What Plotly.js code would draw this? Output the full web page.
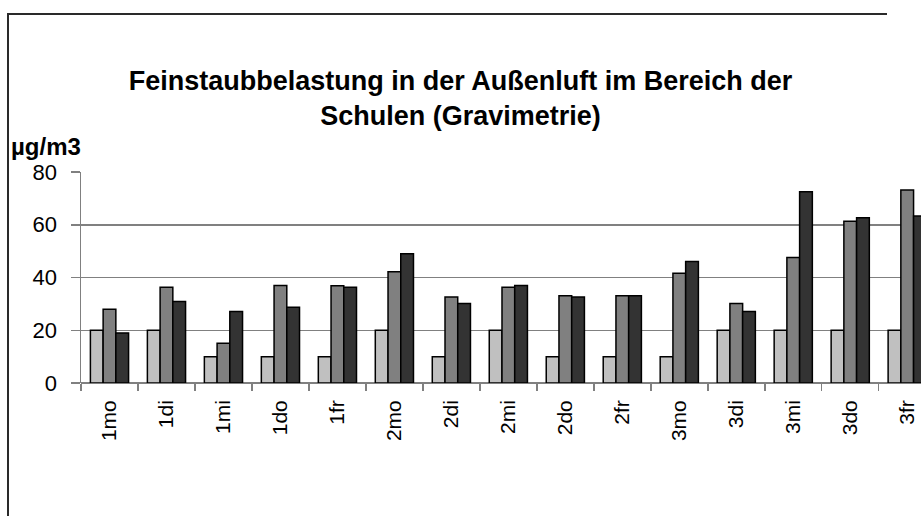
<!DOCTYPE html>
<html>
<head>
<meta charset="utf-8">
<script src="https://cdn.plot.ly/plotly-3.0.1.min.js"></script>
<style>
html,body{margin:0;padding:0;background:#fff;overflow:hidden;}
#wrap{position:relative;width:921px;height:516px;overflow:hidden;}
#chart{width:921px;height:516px;}
#vline{position:absolute;left:7px;top:13px;width:2px;height:503px;background:#2a2a2a;pointer-events:none;}
#hline{position:absolute;left:7px;top:13px;width:880px;height:2px;background:#2a2a2a;pointer-events:none;}
</style>
</head>
<body>
<div id="wrap"><div id="chart"></div><div id="vline"></div><div id="hline"></div></div>
<script>
const categories = ["1mo","1di","1mi","1do","1fr","2mo","2di","2mi","2do","2fr","3mo","3di","3mi","3do","3fr"];
const series1 = [20, 20, 10, 10, 10, 20, 10, 20, 10, 10, 10, 20, 20, 20, 20];
const series2 = [28, 36.3, 15.1, 37, 36.9, 42.2, 32.6, 36.3, 33.1, 33.1, 41.6, 30.1, 47.6, 61.3, 73.2];
const series3 = [19, 30.9, 27.1, 28.7, 36.3, 49, 30.1, 37, 32.6, 33.1, 46.1, 27.1, 72.5, 62.7, 63.3];
const seriesNames = ["Serie 1", "Serie 2", "Serie 3"];
const yTicks = [0, 20, 40, 60, 80];

const colors = ["#c0c0c0", "#808080", "#333333"];
const font = "Liberation Sans, Arial, sans-serif";

const traces = [series1, series2, series3].map((vals, i) => ({
  type: "bar",
  x: categories,
  y: vals,
  name: seriesNames[i],
  marker: {color: colors[i], line: {color: "#000000", width: 1.5}},
  hoverinfo: "x+y"
}));

const layout = {
  width: 921,
  height: 516,
  margin: {l: 81, r: 0, t: 172, b: 133},
  paper_bgcolor: "#ffffff",
  plot_bgcolor: "#ffffff",
  showlegend: false,
  barmode: "group",
  bargap: 0.33,
  bargroupgap: 0,
  font: {family: font, color: "#000000", size: 21},
  title: {
    text: "<b>Feinstaubbelastung in der Außenluft im Bereich der<br>Schulen (Gravimetrie)</b>",
    font: {family: font, size: 27, color: "#000000"},
    x: 0.5, xref: "container", xanchor: "center",
    y: 1 - 90/516, yref: "container", yanchor: "middle"
  },
  xaxis: {
    type: "category",
    range: [-0.5, 14.242],
    showgrid: false,
    showline: false,
    zeroline: false,
    ticks: "outside",
    tickson: "boundaries",
    ticklen: 7,
    tickwidth: 1.5,
    tickcolor: "#808080",
    tickangle: -90,
    tickfont: {family: font, size: 21, color: "#000000"},
    ticklabelstandoff: 12
  },
  yaxis: {
    range: [0, 80],
    tickvals: yTicks,
    ticktext: yTicks.map(String),
    showgrid: true,
    gridcolor: "#808080",
    gridwidth: 1.5,
    showline: true,
    linecolor: "#808080",
    linewidth: 1.5,
    zeroline: true,
    zerolinecolor: "#808080",
    zerolinewidth: 1.5,
    ticks: "outside",
    ticklen: 9,
    tickwidth: 1.5,
    tickcolor: "#808080",
    tickfont: {family: font, size: 22, color: "#000000"},
    ticklabelstandoff: 9,
    fixedrange: true
  },
  annotations: [{
    text: "<b>µg/m3</b>",
    xref: "paper", yref: "paper",
    x: (9 - 81) / 840, y: (383.3 - 146) / 211.6,
    xanchor: "left", yanchor: "middle",
    showarrow: false,
    font: {family: font, size: 24, color: "#000000"}
  }]
};

Plotly.newPlot("chart", traces, layout, {displayModeBar: false, staticPlot: true});
</script>
</body>
</html>
